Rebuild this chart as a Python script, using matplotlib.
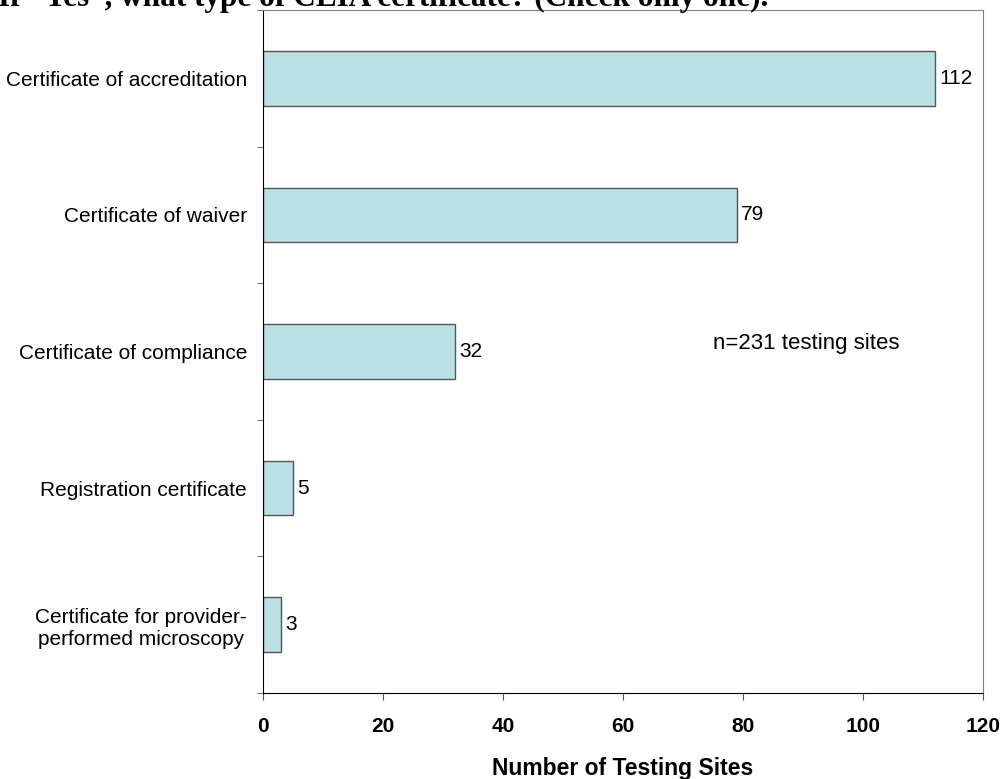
import matplotlib
matplotlib.use("Agg")
import matplotlib.pyplot as plt

categories = ["Certificate of accreditation", "Certificate of waiver",
              "Certificate of compliance", "Registration certificate",
              "Certificate for provider-\nperformed microscopy"]
values = [112, 79, 32, 5, 3]
xticks = [0, 20, 40, 60, 80, 100, 120]

plt.rcParams['font.family'] = ['Liberation Sans', 'DejaVu Sans']

fig = plt.figure(figsize=(10, 7.79), dpi=100)
ax = fig.add_axes([0.263, 0.1104, 0.72, 0.8766])

ypos = list(range(len(categories)))
ax.barh(ypos, values, height=0.4, color="#BBE0E3", edgecolor="#555555", linewidth=1)
ax.set_ylim(len(categories) - 0.5, -0.5)
ax.set_xlim(0, 120)
ax.set_xticks(xticks)
ax.set_xticklabels([str(t) for t in xticks], fontsize=15, fontweight='bold')
ax.set_yticks(ypos)
ax.set_yticklabels(categories, fontsize=15, ha='right', multialignment='center')
ax.tick_params(axis='y', length=0, pad=11.5)
# ticks at category boundaries
ax.set_yticks([i + 0.5 for i in range(-1, len(categories))], minor=True)
ax.tick_params(axis='y', which='minor', length=4, direction='out', color='#555555')
ax.tick_params(axis='x', length=5, direction='out', pad=12, color='#555555')

for y, v in zip(ypos, values):
    ax.annotate(str(v), (v, y), xytext=(3, 0), textcoords='offset points',
                va='center', ha='left', fontsize=15)

ax.set_xlabel("Number of Testing Sites", fontsize=16.5, fontweight='bold', va='baseline')
ax.xaxis.set_label_coords(0.5, -0.12)
ax.text(0.754, 0.512, "n=231 testing sites", transform=ax.transAxes, fontsize=16,
        ha='center', va='center')

for s in ['top', 'right']:
    ax.spines[s].set_color('#808080')
for s in ['left', 'bottom']:
    ax.spines[s].set_color('black')

fig.text(-0.002, 1 - 6 / 779, "If \u201cYes\u201d, what type of CLIA certificate? (Check only one).",
         fontsize=22.5, fontweight='bold', family='Liberation Serif', va='baseline', ha='left')

fig.savefig("out.png", dpi=100)
